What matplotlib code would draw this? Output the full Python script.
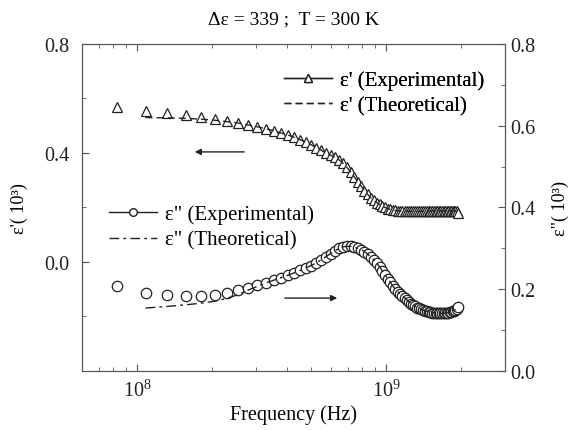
import numpy as np
import matplotlib
matplotlib.use("Agg")
import matplotlib.pyplot as plt

# frequency (MHz) of measured points
freq_mhz = [83, 108, 132, 157, 181, 206, 230, 255, 279, 304, 328, 353, 377, 402,
            426, 451, 475, 500, 524, 549, 573, 598, 622, 647, 671, 696, 720, 745,
            769, 794, 818, 843, 867, 892, 916, 941, 965, 990, 1014, 1039, 1063,
            1088, 1112, 1137, 1161, 1186, 1210, 1235, 1259, 1284, 1308, 1333,
            1357, 1382, 1406, 1431, 1455, 1480, 1504, 1529, 1553, 1578, 1602,
            1627, 1651, 1676, 1700, 1725, 1749, 1774, 1798, 1823, 1847, 1872,
            1896, 1921, 1945]

# eps' experimental (x 10^3)
eps1_exp = [0.567, 0.553, 0.548, 0.540, 0.532, 0.525, 0.518, 0.511, 0.503, 0.496,
            0.489, 0.482, 0.474, 0.466, 0.458, 0.449, 0.440, 0.430, 0.420, 0.410,
            0.400, 0.392, 0.384, 0.375, 0.362, 0.347, 0.330, 0.312, 0.295, 0.278,
            0.262, 0.248, 0.236, 0.226, 0.218, 0.211, 0.205, 0.200, 0.196, 0.193,
            0.191, 0.189, 0.188, 0.187, 0.186, 0.186, 0.186, 0.186, 0.186, 0.186,
            0.186, 0.186, 0.186, 0.186, 0.187, 0.187, 0.187, 0.187, 0.187, 0.188,
            0.188, 0.188, 0.188, 0.188, 0.188, 0.188, 0.188, 0.188, 0.188, 0.188,
            0.188, 0.188, 0.188, 0.188, 0.187, 0.186, 0.180]

# eps' theoretical (starts at 2nd frequency)
eps1_th = [0.530, 0.529, 0.527, 0.524, 0.520, 0.515, 0.510, 0.503, 0.496,
           0.489, 0.482, 0.474, 0.466, 0.458, 0.449, 0.440, 0.430, 0.420, 0.410,
           0.400, 0.392, 0.384, 0.375, 0.362, 0.347, 0.330, 0.312, 0.295, 0.278,
           0.262, 0.248, 0.236, 0.226, 0.218, 0.211, 0.205, 0.200, 0.196, 0.193,
           0.191, 0.189, 0.188, 0.187, 0.186, 0.186, 0.186, 0.186, 0.186, 0.186,
           0.186, 0.186, 0.186, 0.186, 0.187, 0.187, 0.187, 0.187, 0.187, 0.188,
           0.188, 0.188, 0.188, 0.188, 0.188, 0.188, 0.188, 0.188, 0.188, 0.188,
           0.188, 0.188, 0.188, 0.188, 0.187, 0.186, 0.184]

# eps'' experimental (x 10^3)
eps2_exp = [0.207, 0.190, 0.185, 0.183, 0.183, 0.187, 0.192, 0.197, 0.204, 0.210,
            0.216, 0.222, 0.228, 0.234, 0.240, 0.246, 0.252, 0.258, 0.265, 0.272,
            0.280, 0.287, 0.294, 0.300, 0.304, 0.305, 0.305, 0.303, 0.300, 0.297,
            0.292, 0.286, 0.279, 0.272, 0.264, 0.255, 0.245, 0.236, 0.226, 0.217,
            0.208, 0.200, 0.194, 0.189, 0.184, 0.179, 0.174, 0.169, 0.165, 0.161,
            0.158, 0.155, 0.153, 0.151, 0.149, 0.147, 0.146, 0.145, 0.144, 0.143,
            0.142, 0.142, 0.141, 0.141, 0.141, 0.141, 0.141, 0.142, 0.142, 0.143,
            0.144, 0.145, 0.146, 0.148, 0.150, 0.152, 0.156]

# eps'' theoretical (starts at 2nd frequency)
eps2_th = [0.154, 0.158, 0.162, 0.166, 0.171, 0.178, 0.187, 0.198, 0.207,
           0.215, 0.222, 0.228, 0.234, 0.240, 0.246, 0.252, 0.258, 0.265, 0.272,
           0.280, 0.287, 0.294, 0.300, 0.304, 0.305, 0.305, 0.303, 0.300, 0.297,
           0.292, 0.286, 0.279, 0.272, 0.264, 0.255, 0.245, 0.236, 0.226, 0.217,
           0.208, 0.200, 0.194, 0.189, 0.184, 0.179, 0.174, 0.169, 0.165, 0.161,
           0.158, 0.155, 0.153, 0.151, 0.149, 0.147, 0.146, 0.145, 0.144, 0.143,
           0.142, 0.142, 0.141, 0.141, 0.141, 0.141, 0.141, 0.142, 0.142, 0.143,
           0.144, 0.145, 0.146, 0.148, 0.150, 0.152, 0.155]

plt.rcParams['font.family'] = ['Liberation Serif', 'DejaVu Serif']
plt.rcParams['mathtext.fontset'] = 'custom'
plt.rcParams['mathtext.rm'] = 'Liberation Serif'
plt.rcParams['axes.edgecolor'] = '#555555'
plt.rcParams['xtick.color'] = '#555555'
plt.rcParams['ytick.color'] = '#555555'
plt.rcParams['xtick.labelcolor'] = '#222222'
plt.rcParams['ytick.labelcolor'] = '#222222'

f = np.array(freq_mhz) * 1e6

fig = plt.figure(figsize=(5.75, 4.31), dpi=100)
ax = fig.add_axes([0.1426, 0.1369, 0.7356, 0.7587])
ax2 = ax.twinx()

l1, = ax.plot(f, eps1_exp, '-', color='#222222', lw=0.0, marker='^', ms=7.5,
              mfc='white', mec='#222222', mew=0.9)
l2, = ax.plot(f[1:], eps1_th, color='#222222', lw=1.0, dashes=(5, 3))
c1, = ax2.plot(f, eps2_exp, '-', color='#222222', lw=0.0, marker='o', ms=7.5,
               mfc='white', mec='#222222', mew=0.9)
c2, = ax2.plot(f[1:], eps2_th, color='#222222', lw=1.0, dashes=(7, 3, 2, 3))

ax.set_xscale('log')
ax.set_xlim(6e7, 3e9)
ax.set_ylim(-0.4, 0.8)
ax2.set_ylim(0.0, 0.8)

ax.set_yticks([0.0, 0.4, 0.8])
ax.set_yticks([-0.2, 0.2, 0.6], minor=True)
ax2.set_yticks([0.0, 0.2, 0.4, 0.6, 0.8])
ax2.set_yticks([0.1, 0.3, 0.5, 0.7], minor=True)
ax.set_yticklabels(['0.0', '0.4', '0.8'])
ax2.set_yticklabels(['0.0', '0.2', '0.4', '0.6', '0.8'])

ax.tick_params(axis='both', which='both', direction='in', labelsize=14.5)
ax.tick_params(axis='x', which='both', top=True)
ax.tick_params(which='major', length=5)
ax.tick_params(which='minor', length=3)
ax2.tick_params(axis='y', which='both', direction='in', labelsize=14.5)
ax2.tick_params(which='major', length=5)
ax2.tick_params(which='minor', length=3)
ax.tick_params(axis='x', pad=6)
ax.tick_params(axis='y', pad=9)

ax.set_xlabel('Frequency (Hz)', fontsize=14.5, labelpad=3)
ax.set_ylabel("ε'( 10³)", fontsize=13, labelpad=12)
ax2.set_ylabel('ε"( 10³)', fontsize=13, labelpad=12)
ax.set_title('Δε = 339 ;  T = 300 K', fontsize=14, pad=15)

# handles with the connecting line as in the legend of the original
h1 = plt.Line2D([], [], color='#222222', lw=1.0, marker='^', ms=5.5,
                mfc='white', mec='#222222')
h3 = plt.Line2D([], [], color='#222222', lw=1.0, marker='o', ms=5.5,
                mfc='white', mec='#222222')

leg1 = ax.legend([h1, l2], ["ε' (Experimental)", "ε' (Theoretical)"],
                 loc='upper left', bbox_to_anchor=(0.478, 0.92), frameon=False,
                 numpoints=1, handlelength=2.3, handletextpad=0.4,
                 labelspacing=0.3, borderaxespad=0, borderpad=0, fontsize=15)
ax.add_artist(leg1)
ax2.legend([h3, c2], ['ε" (Experimental)', 'ε" (Theoretical)'],
           loc='upper left', bbox_to_anchor=(0.064, 0.51), frameon=False,
           numpoints=1, handlelength=2.3, handletextpad=0.4,
           labelspacing=0.3, borderaxespad=0, borderpad=0, fontsize=15)

# direction arrows
ax.annotate('', xy=(0.26, 0.67), xytext=(0.39, 0.67), xycoords='axes fraction',
            arrowprops=dict(arrowstyle='-|>', color='#222222', lw=1.0,
                            mutation_scale=9))
ax.annotate('', xy=(0.61, 0.223), xytext=(0.473, 0.223), xycoords='axes fraction',
            arrowprops=dict(arrowstyle='-|>', color='#222222', lw=1.0,
                            mutation_scale=9))

fig.savefig('out.png', dpi=100)
